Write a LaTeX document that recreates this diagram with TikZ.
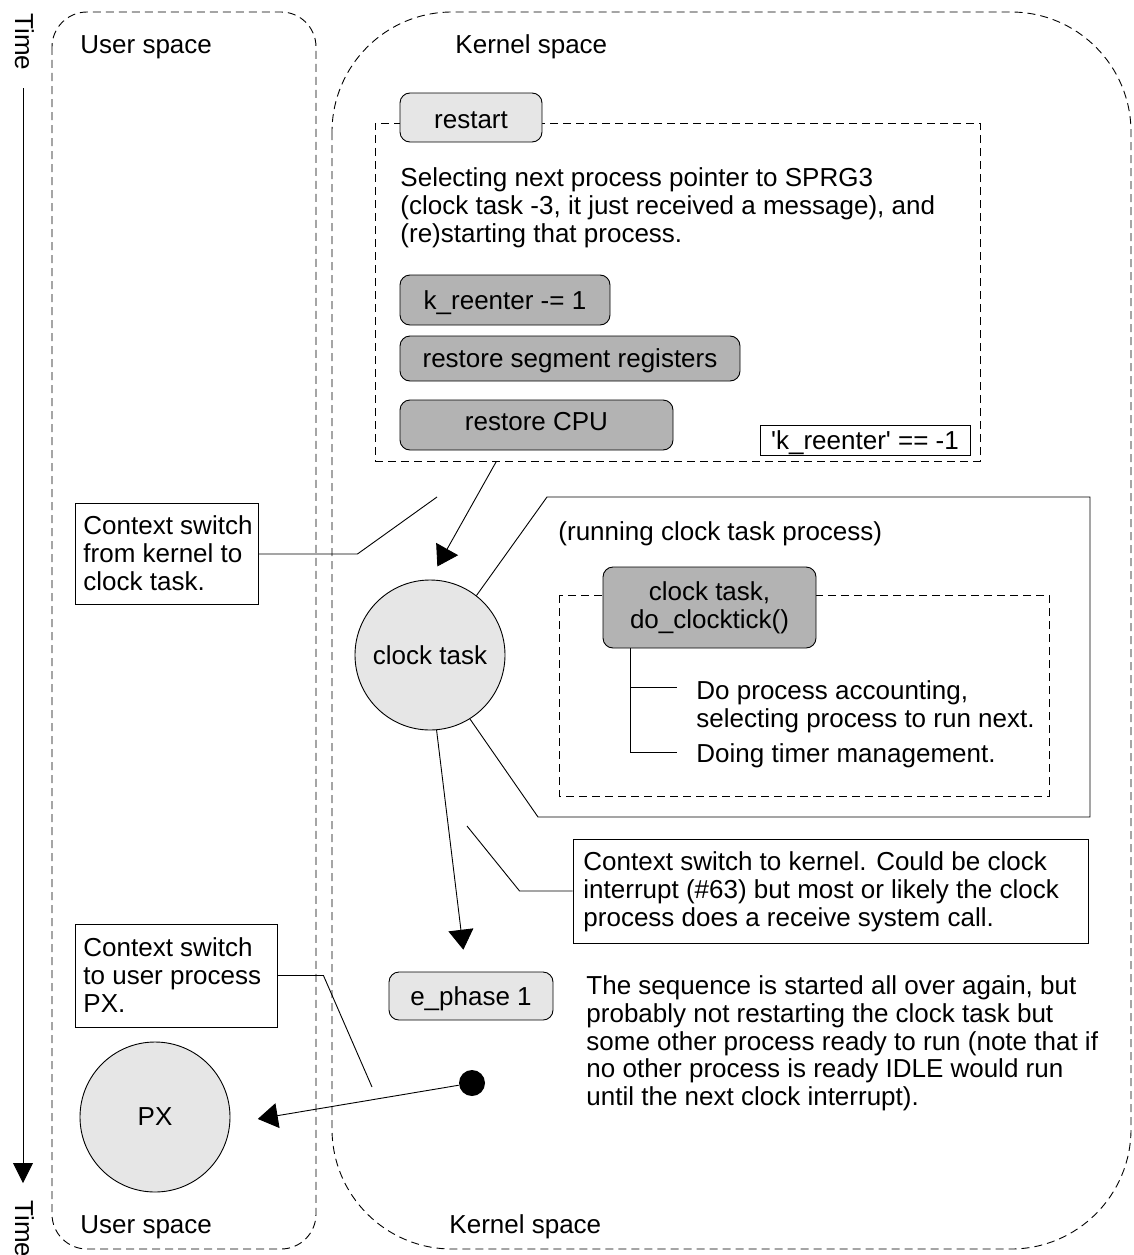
\documentclass[tikz,border=0pt]{standalone}
\usepackage{fontspec}
\setmainfont{Liberation Sans}[Ligatures=TeXOff]
\usetikzlibrary{arrows.meta,calc}
\definecolor{lightfill}{HTML}{E6E6E6}
\definecolor{darkfill}{HTML}{B3B3B3}
% strut that fixes the height of the first line of a text block
\newcommand\firstline{\rule{0pt}{20pt}}

\begin{document}
\begin{tikzpicture}[x=1pt,y=-1pt,line width=0.9pt,
  every node/.style={font=\fontsize{26}{27.8}\selectfont},
  region/.style={draw,dash pattern=on 8pt off 5pt},
  pill/.style={draw,rounded corners=10pt,inner sep=0pt},
  oneline/.style={text height=18pt,text depth=0pt},
  light/.style={pill,fill=lightfill},
  dark/.style={pill,fill=darkfill},
  txt/.style={inner sep=0pt,anchor=north west,align=left},
  note/.style={draw,fill=white,inner sep=0pt},
  proc/.style={circle,draw,fill=lightfill,minimum size=150pt,inner sep=0pt},
  tip/.style={-{Triangle[length=20pt,width=25pt]}}]

\useasboundingbox (0,0) rectangle (1133,1255);

% time axis
\node[rotate=-90,anchor=base west,inner sep=0pt] (timetop) at (15,13) {Time};
\node[rotate=-90,anchor=base west,inner sep=0pt] (timebot) at (15,1200) {Time};
\coordinate (axisstart) at (23,88);
\coordinate (axisend) at (23,1183);
\draw[-{Triangle[length=20pt,width=20pt]}] (axisstart) -- (axisend);

% user and kernel regions
\draw[region,rounded corners=35pt] (52,12) rectangle (316,1249);
\draw[region,rounded corners=120pt] (332,12) rectangle (1131,1249);
\node[txt] (usertop) at (80,33) {\firstline User space};
\node[txt] (kerneltop) at (455,33) {\firstline Kernel space};
\node[txt] (userbot) at (80,1213) {\firstline User space};
\node[txt] (kernelbot) at (449,1213) {\firstline Kernel space};

% restart phase
\node[region,inner sep=0pt,minimum width=605pt,minimum height=338pt] (rsgroup) at (677.5,292) {};
\node[light,text height=22pt,text depth=0pt,minimum width=142pt,minimum height=49pt] (restart) at (471,117.5) {restart};
\node[txt] (rstext) at (400,166) {\firstline Selecting next process pointer to SPRG3\\(clock task -3, it just received a message), and\\(re)starting that process.};
\node[dark,oneline,minimum width=210pt,minimum height=50pt] (kre) at (505,300) {k\_reenter -= 1};
\node[dark,oneline,minimum width=340pt,minimum height=45pt] (seg) at (570,358.5) {restore segment registers};
\node[dark,text height=18pt,text depth=8pt,minimum width=273pt,minimum height=50pt] (cpu) at (536.5,425) {restore CPU};
\node[draw,oneline,inner sep=0pt,minimum width=210pt,minimum height=30pt] (kflag) at (865,440) {'k\_reenter' == -1};

% clock task process
\node[proc] (ct) at (430,655) {clock task};
\draw[tip,shorten >=15pt] ($(rsgroup.south west)!0.201!(rsgroup.south east)$) -- (ct.north);

% callout: context switch to clock task
\node[note,minimum width=183pt,minimum height=101pt] (c1) at (166.5,554) {};
\node[txt] (c1text) at (83,514) {\firstline Context switch\\from kernel to\\clock task.};
\coordinate (c1end) at (437,497);
\draw (c1.east) -- ++(99,0) -- (c1end);

% callout: running clock task
\draw (ct.52.7) -- (547,497) -- (1090,497) -- (1090,817) -- (538,817) -- (ct.-58);
\node[txt] (runtext) at (558,520) {\firstline (running clock task process)};
\draw[region] (559,595) rectangle (1049,796);
\node[dark,align=center,minimum width=213pt,minimum height=81pt] (tick) at (709.5,607.5) {clock task,\\do\_clocktick()};
\coordinate (b1) at (677,687);
\coordinate (b2) at (677,752);
\draw ([xshift=28pt]tick.south west) coordinate (trunk) -- (trunk |- b2) -- (b2);
\draw (trunk |- b1) -- (b1);
\node[txt] (acct) at (696,679) {\firstline Do process accounting,\\selecting process to run next.};
\node[txt] (timer) at (696,742) {\firstline Doing timer management.};

% back to the kernel
\node[light,oneline,minimum width=164pt,minimum height=48pt] (ep) at (471,996) {e\_phase 1};
\draw[tip,shorten >=22pt] (ct.-85.5) -- ([xshift=-5pt]ep.north);

% callout: context switch to kernel
\node[note,minimum width=515pt,minimum height=104pt] (c2) at (830.5,891) {};
\node[txt] (c2text) at (583,850) {\firstline Context switch to kernel. Could be clock\\interrupt (\#63) but most or likely the clock\\process does a receive system call.};
\coordinate (c2end) at (467,826);
\draw (c2.west) -- ++(-53,0) -- (c2end);

% switch to user process
\node[circle,fill=black,minimum size=26pt,inner sep=0pt] (dot) at (472,1083) {};
\node[proc] (px) at (155,1117) {PX};
\draw[tip,shorten >=28pt] (dot) -- (px.-5);

\node[note,minimum width=202pt,minimum height=103pt] (c3) at (176,975.5) {};
\node[txt] (c3text) at (83,936) {\firstline Context switch\\to user process\\PX.};
\coordinate (c3end) at (372,1087);
\draw (c3.east) -- ++(46,0) -- (c3end);

\node[txt] (seqtext) at (586,974) {\firstline The sequence is started all over again, but\\probably not restarting the clock task but\\some other process ready to run (note that if\\no other process is ready IDLE would run\\until the next clock interrupt).};

\end{tikzpicture}
\end{document}
